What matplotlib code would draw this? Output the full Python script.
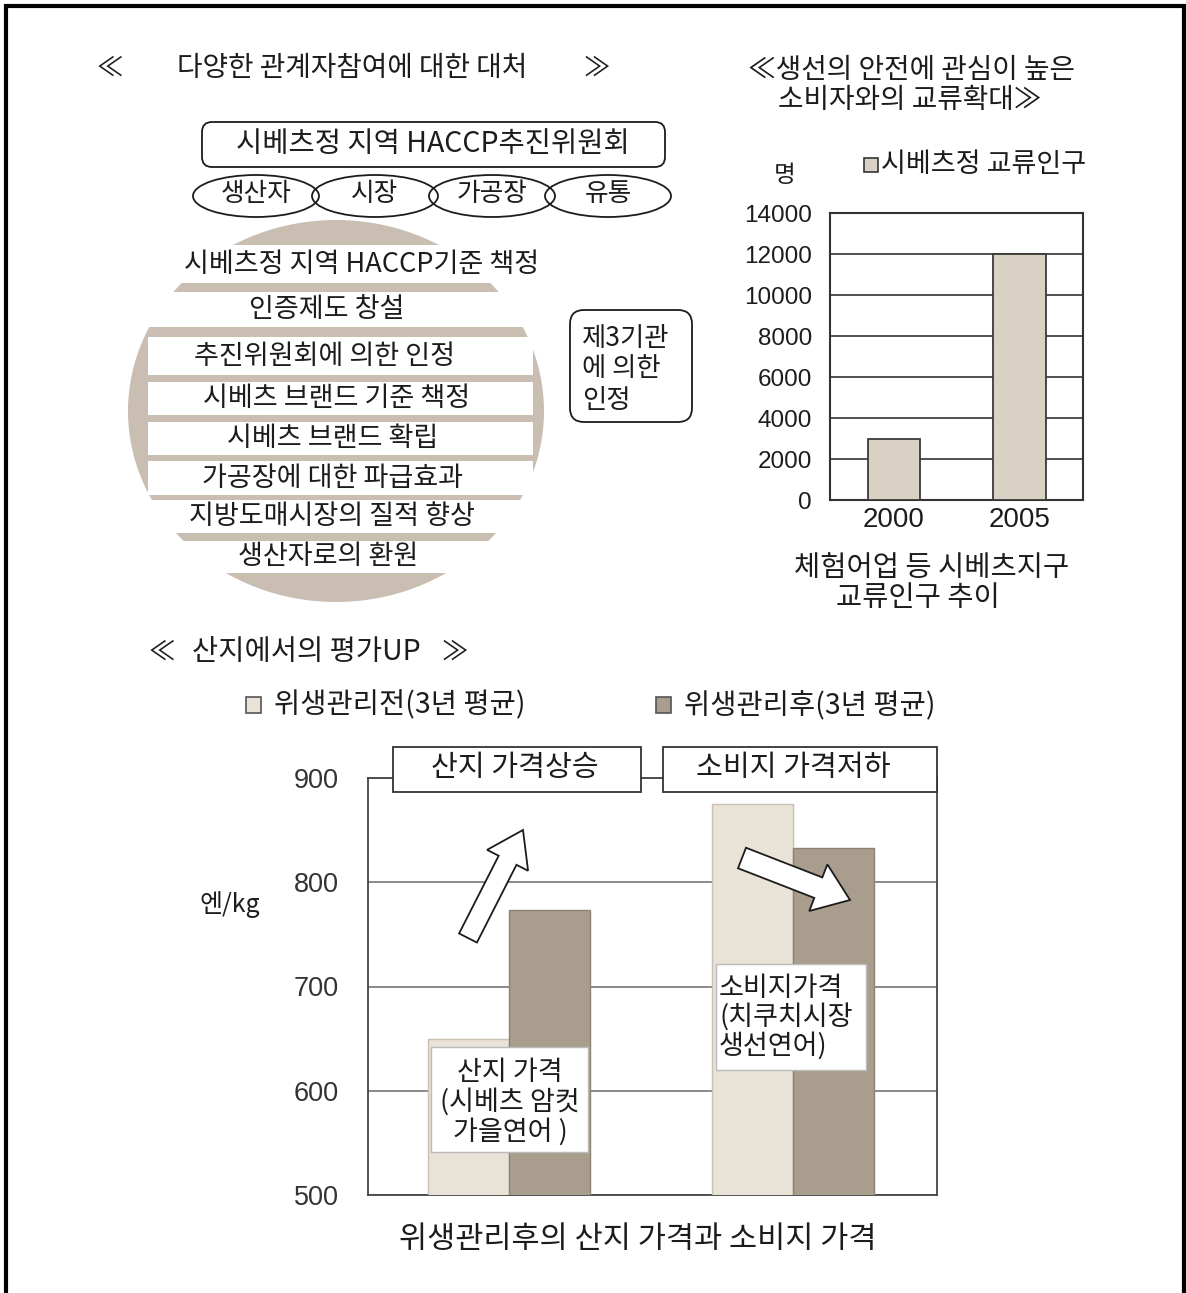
import matplotlib
matplotlib.use("Agg")
import matplotlib.pyplot as plt
from matplotlib.patches import Rectangle, FancyBboxPatch, Ellipse, FancyArrow
import numpy as np

plt.rcParams["font.family"] = ["Noto Sans CJK KR", "DejaVu Sans"]
NUM_FONT = ["Liberation Sans", "DejaVu Sans"]
NARROW_FONT = ["Liberation Sans Narrow", "Liberation Sans", "DejaVu Sans"]

W, H = 1186, 1293
INK = "#1c1c1c"

# ---- data ----
stakeholders = ["생산자", "시장", "가공장", "유통"]
steps = [
    "시베츠정 지역 HACCP기준 책정",
    "인증제도 창설",
    "추진위원회에 의한 인정",
    "시베츠 브랜드 기준 책정",
    "시베츠 브랜드 확립",
    "가공장에 대한 파급효과",
    "지방도매시장의 질적 향상",
    "생산자로의 환원",
]

exchange_years = ["2000", "2005"]
exchange_people = [3000, 12000]
exchange_ticks = [0, 2000, 4000, 6000, 8000, 10000, 12000, 14000]

price_groups = ["산지 가격", "소비지 가격"]
price_before = [650, 875]
price_after = [773, 833]
price_ticks = [500, 600, 700, 800, 900]


def axes_rect(left, top, right, bottom):
    return [left / W, 1 - bottom / H, (right - left) / W, (bottom - top) / H]


fig = plt.figure(figsize=(W / 100, H / 100), dpi=100)
fig.patch.set_facecolor("white")

bg = fig.add_axes([0, 0, 1, 1], zorder=0)
bg.set_xlim(0, W)
bg.set_ylim(H, 0)
bg.axis("off")

# ---- top-left diagram ----
bg.text(110, 68, "≪", fontsize=19, ha="center", va="center", color=INK)
bg.text(352, 68, "다양한 관계자참여에 대한 대처", fontsize=20, ha="center", va="center", color=INK)
bg.text(597, 68, "≫", fontsize=19, ha="center", va="center", color=INK)

bg.add_patch(FancyBboxPatch((202, 122), 463, 45, boxstyle="round,pad=0,rounding_size=10",
                            fc="white", ec=INK, lw=1.3))
bg.text(433, 144, "시베츠정 지역 HACCP추진위원회", fontsize=20.5, ha="center", va="center", color=INK)

ell_x = [256, 375, 492, 608]
for cx, name in zip(ell_x, stakeholders):
    bg.add_patch(Ellipse((cx, 196), 126, 42, fc="none", ec=INK, lw=1.3))
    bg.text(cx, 194, name, fontsize=18.5, ha="center", va="center", color=INK)

bg.add_patch(Ellipse((336, 411), 416, 382, fc="#c9beb1", ec="none"))
bands = [(245, 283), (292, 327), (337, 375), (382, 415), (422, 455), (461, 495), (500, 533), (541, 573)]
text_x = [362, 327, 325, 337, 333, 332, 332, 328]
for (y0, y1), tx, label in zip(bands, text_x, steps):
    bg.add_patch(Rectangle((148, y0), 385, y1 - y0, fc="white", ec="none"))
    bg.text(tx, (y0 + y1) / 2, label, fontsize=19.5, ha="center", va="center", color=INK)

bg.add_patch(FancyBboxPatch((570, 310), 122, 112, boxstyle="round,pad=0,rounding_size=14",
                            fc="white", ec=INK, lw=1.3))
for i, line in enumerate(["제3기관", "에 의한", "인정"]):
    bg.text(582, 338 + i * 31, line, fontsize=19, ha="left", va="center", color=INK)

# ---- top-right chart ----
bg.text(911, 70, "≪생선의 안전에 관심이 높은", fontsize=20, ha="center", va="center", color=INK)
bg.text(910, 100, "소비자와의 교류확대≫", fontsize=20, ha="center", va="center", color=INK)
bg.text(785, 175, "명", fontsize=17, ha="center", va="center", color=INK)
bg.add_patch(Rectangle((864, 158), 14, 14, fc="#d9d1c4", ec="#333333", lw=1.2))
bg.text(881, 164, "시베츠정 교류인구", fontsize=19.5, ha="left", va="center", color=INK)
bg.text(932, 568, "체험어업 등 시베츠지구", fontsize=20.5, ha="center", va="center", color=INK)
bg.text(918, 598, "교류인구 추이", fontsize=20.5, ha="center", va="center", color=INK)

ax1 = fig.add_axes(axes_rect(830, 213, 1083, 500), zorder=2)
x1 = np.arange(len(exchange_years))
ax1.bar(x1, exchange_people, width=0.415, color="#d9d1c4", edgecolor="#3a3a3a", lw=1.3, zorder=3)
ax1.set_xlim(-0.51, 1.506)
ax1.set_ylim(0, 14000)
ax1.set_yticks(exchange_ticks)
ax1.set_yticklabels([str(t) for t in exchange_ticks], family=NUM_FONT, fontsize=17.5, color=INK)
ax1.set_xticks(x1)
ax1.set_xticklabels(exchange_years, family=NUM_FONT, fontsize=20, color=INK)
ax1.tick_params(length=0)
ax1.tick_params(axis="y", pad=13)
ax1.tick_params(axis="x", pad=5)
ax1.yaxis.grid(True, color="#333333", lw=1.2)
ax1.set_axisbelow(True)
for sp in ax1.spines.values():
    sp.set_color("#333333")
    sp.set_linewidth(1.5)

# ---- bottom chart ----
bg.text(162, 652, "≪", fontsize=19, ha="center", va="center", color=INK)
bg.text(306, 652, "산지에서의 평가UP", fontsize=20.5, ha="center", va="center", color=INK)
bg.text(455, 652, "≫", fontsize=19, ha="center", va="center", color=INK)

light, dark = "#e9e2d6", "#a99d8d"
bg.add_patch(Rectangle((246, 697), 15, 16, fc=light, ec="#555555", lw=1.2))
bg.text(274, 705, "위생관리전(3년 평균)", fontsize=20.5, ha="left", va="center", color=INK)
bg.add_patch(Rectangle((656, 697), 15, 16, fc=dark, ec="#555555", lw=1.2))
bg.text(684, 705, "위생관리후(3년 평균)", fontsize=20.5, ha="left", va="center", color=INK)
bg.text(230, 905, "엔/kg", fontsize=18, ha="center", va="center", color=INK)
bg.text(638, 1240, "위생관리후의 산지 가격과 소비지 가격", fontsize=22, ha="center", va="center", color=INK)

ax2 = fig.add_axes(axes_rect(368, 778, 937, 1195), zorder=2)
x2 = np.arange(len(price_groups))
bw = 0.285
ax2.bar(x2 - bw / 2, price_before, bw, color=light, edgecolor="#c8c0b2", lw=1.0, zorder=3)
ax2.bar(x2 + bw / 2, price_after, bw, color=dark, edgecolor="#8e8373", lw=1.0, zorder=3)
ax2.set_xlim(-0.497, 1.507)
ax2.set_ylim(500, 900)
ax2.set_yticks(price_ticks)
ax2.set_yticklabels([str(t) for t in price_ticks], family=NARROW_FONT, fontsize=19.5, color="#333333")
ax2.set_xticks([])
ax2.tick_params(length=0)
ax2.tick_params(axis="y", pad=21)
ax2.yaxis.grid(True, color="#777777", lw=1.2)
ax2.set_axisbelow(True)
for sp in ax2.spines.values():
    sp.set_color("#444444")
    sp.set_linewidth(1.3)

fg = fig.add_axes([0, 0, 1, 1], zorder=5)
fg.set_xlim(0, W)
fg.set_ylim(H, 0)
fg.axis("off")
fg.patch.set_alpha(0)

# header boxes
fg.add_patch(Rectangle((393, 747), 248, 45, fc="white", ec="#333333", lw=1.3))
fg.text(515, 768, "산지 가격상승", fontsize=21, ha="center", va="center", color=INK)
fg.add_patch(Rectangle((663, 747), 274, 45, fc="white", ec="#333333", lw=1.3))
fg.text(793, 768, "소비지 가격저하", fontsize=21, ha="center", va="center", color=INK)

# arrows
fg.add_patch(FancyArrow(468, 938, 55, -108, width=20, head_width=46, head_length=34,
                        length_includes_head=True, fc="white", ec=INK, lw=1.3))
fg.add_patch(FancyArrow(742, 858, 108, 42, width=22, head_width=50, head_length=34,
                        length_includes_head=True, fc="white", ec=INK, lw=1.3))

# label boxes
fg.add_patch(Rectangle((431, 1047), 157, 105, fc="white", ec="#bbbbbb", lw=1.0))
for i, line in enumerate(["산지 가격", "(시베츠 암컷", "가을연어 )"]):
    fg.text(510, 1072 + i * 30, line, fontsize=19.5, ha="center", va="center", color=INK)
fg.add_patch(Rectangle((716, 964), 150, 106, fc="white", ec="#bbbbbb", lw=1.0))
for i, line in enumerate(["소비지가격", "(치쿠치시장", "생선연어)"]):
    fg.text(719, 988 + i * 29, line, fontsize=19.5, ha="left", va="center", color=INK)

# page frame
fg.plot([6, 6, 1184, 1184], [H, 6, 6, H], color="black", lw=3, solid_joinstyle="miter")

fig.savefig("out.png", dpi=100, facecolor="white")
